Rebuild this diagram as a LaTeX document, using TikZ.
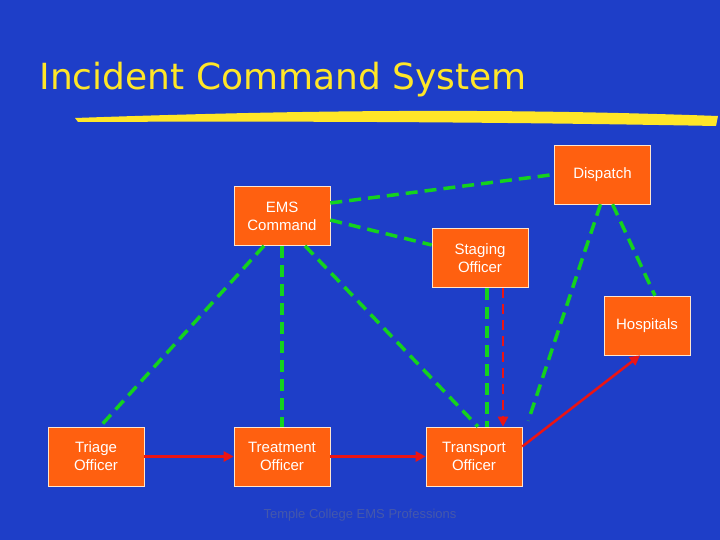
\documentclass[tikz,border=0pt]{standalone}
\usepackage{fontspec}
\setmainfont{Liberation Sans}
\newfontfamily\titlefont{DejaVu Sans}
\usetikzlibrary{calc,arrows.meta}
\definecolor{bg}{RGB}{30,62,200}
\definecolor{boxc}{RGB}{255,96,16}
\definecolor{ttl}{RGB}{255,230,40}
\definecolor{grn}{RGB}{20,210,30}
\definecolor{rd}{RGB}{235,20,20}
\tikzset{
  obox/.style={draw=white!80!orange,line width=0.6pt,fill=boxc,text=white,minimum width=96pt,minimum height=59pt,align=center,font=\fontsize{15}{18}\selectfont,inner sep=0pt},
  gline/.style={grn,line width=3.5pt,dash pattern=on 12pt off 7pt},
  rline/.style={rd,line width=2.5pt,-{Triangle[length=10pt,width=10pt]}},
}
\begin{document}
\begin{tikzpicture}[x=1pt,y=-1pt]
\fill[bg] (0,0) rectangle (720,540);
\useasboundingbox (0,0) rectangle (720,540);
\node[anchor=west,text=ttl,font=\titlefont\fontsize{36}{40}\selectfont] (title) at (36,80) {Incident Command System};
\fill[ttl] (75,118) .. controls (300,110) and (500,108) .. (718,116) -- (716,126) .. controls (500,122) and (300,121) .. (78,122) -- cycle;
\node[obox] (disp) at (602.5,174.5) {Dispatch};
\node[obox] (ems) at (282,216) {EMS\\Command};
\node[obox] (stag) at (480,258) {Staging\\Officer};
\node[obox,minimum width=86pt] (hosp) at (647,325.5) {Hospitals};
\node[obox] (tri) at (96,456.5) {Triage\\Officer};
\node[obox] (treat) at (282,456.5) {Treatment\\Officer};
\node[obox] (trans) at (474,456.5) {Transport\\Officer};
\draw[gline] ($(ems.east)+(0,-13)$) -- ($(disp.west)+(0,0)$);
\draw[gline] ($(ems.east)+(0,4)$) -- ($(stag.west)+(0,-13)$);
\draw[gline] ($(ems.south)+(-18,0)$) -- ($(tri.north)+(4,0)$);
\draw[gline] (ems.south) -- (treat.north);
\draw[gline] ($(ems.south)+(23,0)$) -- ($(trans.north)+(4,0)$);
\draw[gline] ($(stag.south)+(7,0)$) -- ($(trans.north)+(13,0)$);
\draw[gline] ($(disp.south)+(-2,0)$) -- ($(trans.north east)+(6,-6)$);
\draw[gline] ($(disp.south)+(10,0)$) -- ($(hosp.north)+(8,0)$);
\draw[rline,dash pattern=on 10pt off 6pt] ($(stag.south)+(23,0)$) -- ($(trans.north)+(29,0)$);
\draw[rline] (tri.east) -- (treat.west);
\draw[rline] (treat.east) -- (trans.west);
\draw[rline] ($(trans.east)+(0,-10)$) -- ($(hosp.south)+(-7,0)$);
\node[text=bg!60!gray,font=\fontsize{13}{15}\selectfont] (foot) at (360,515) {Temple College EMS Professions};
\end{tikzpicture}
\end{document}
